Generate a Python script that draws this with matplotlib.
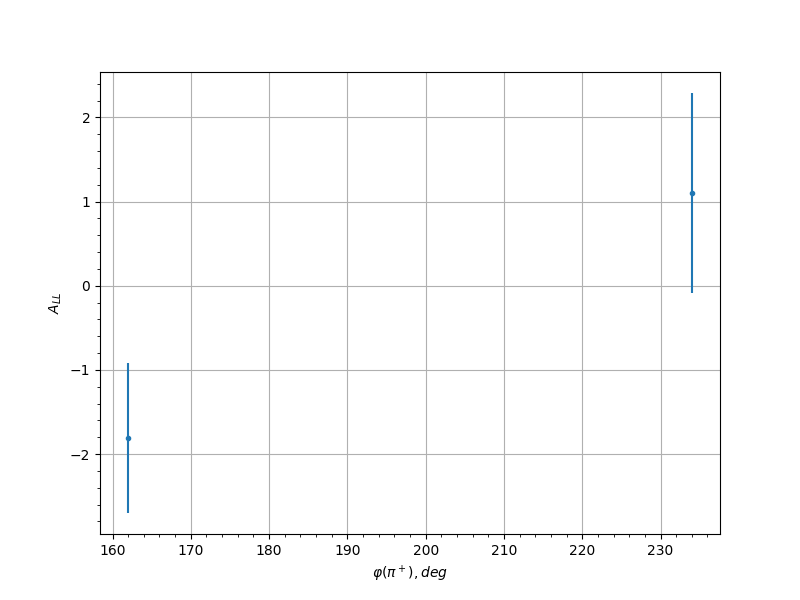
import matplotlib
matplotlib.use("Agg")
import matplotlib.pyplot as plt

phi = [162, 234]
a_ll = [-1.81, 1.10]
a_ll_err = [0.89, 1.19]

fig, ax = plt.subplots(figsize=(8, 6), dpi=100)
ax.errorbar(phi, a_ll, yerr=a_ll_err, fmt='o', markersize=3, color='C0')
ax.set_xlabel(r'$\varphi(\pi^+), deg$')
ax.set_ylabel(r'$A_{LL}$')
ax.minorticks_on()
ax.grid(True, which='major')
fig.savefig('out.png', dpi=100)
